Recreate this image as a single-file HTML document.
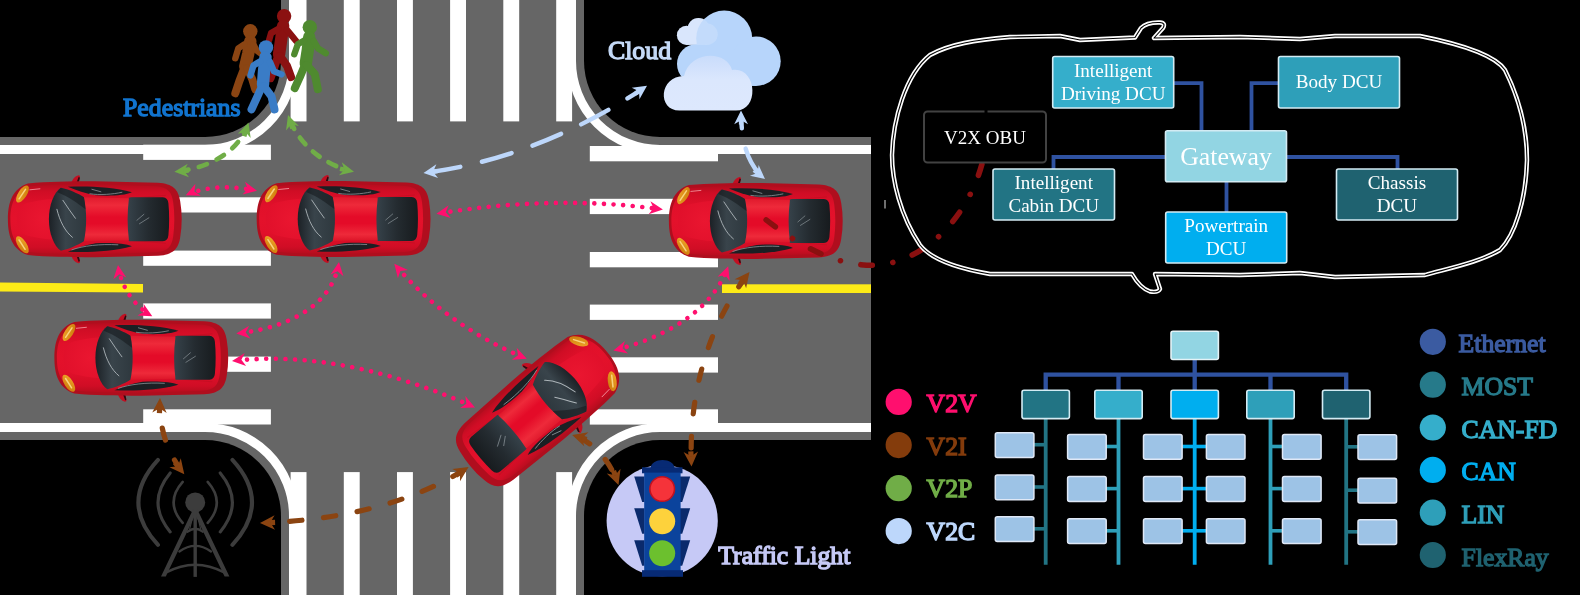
<!DOCTYPE html><html><head><meta charset="utf-8"><title>V2X</title>
<style>html,body{margin:0;padding:0;background:#000;overflow:hidden}svg{display:block;will-change:transform}text{font-family:"Liberation Serif",serif}</style></head><body>
<svg width="1580" height="595" viewBox="0 0 1580 595">
<defs>
<linearGradient id="gBody" x1="0" y1="0" x2="0" y2="1">
<stop offset="0" stop-color="#b50d1e"/><stop offset="0.10" stop-color="#d00d25"/><stop offset="0.30" stop-color="#e1102a"/>
<stop offset="0.5" stop-color="#e4112b"/><stop offset="0.70" stop-color="#e1102a"/><stop offset="0.90" stop-color="#d00d25"/><stop offset="1" stop-color="#b50d1e"/></linearGradient>
<linearGradient id="gRoof" x1="0" y1="0" x2="0" y2="1">
<stop offset="0" stop-color="#e01a2d"/><stop offset="0.18" stop-color="#ee2a3a"/><stop offset="0.45" stop-color="#e40b28"/><stop offset="0.6" stop-color="#e40b28"/><stop offset="0.85" stop-color="#ee2a3a"/><stop offset="1" stop-color="#dc1428"/></linearGradient>
<radialGradient id="gHood" cx="0.7" cy="0.5" r="0.8"><stop offset="0" stop-color="#ea1630"/><stop offset="1" stop-color="#e00f2a"/></radialGradient>
<linearGradient id="gWs" x1="0" y1="0" x2="1" y2="0"><stop offset="0" stop-color="#1c2126"/><stop offset="0.45" stop-color="#39444b"/><stop offset="1" stop-color="#2e383e"/></linearGradient>
<linearGradient id="gRw" x1="0" y1="0" x2="1" y2="0"><stop offset="0" stop-color="#36424a"/><stop offset="0.5" stop-color="#242b30"/><stop offset="1" stop-color="#171b1e"/></linearGradient>
<linearGradient id="gHl" x1="0" y1="0" x2="1" y2="1"><stop offset="0" stop-color="#f2a62a"/><stop offset="1" stop-color="#c97808"/></linearGradient>
<linearGradient id="gCloudF" x1="0" y1="0" x2="0" y2="1"><stop offset="0" stop-color="#c9dcfb"/><stop offset="0.45" stop-color="#dbe7fd"/><stop offset="1" stop-color="#dde8fd"/></linearGradient>

<g id="car">
<path d="M63.5,1.5 C64.5,-2 67,-5 70.5,-6 Q72.5,-6 72,-3.5 L70.5,1.5 Z" fill="#c20f22"/>
<path d="M68.6,1.5 L70.8,-4.6 L72,-3.6 L70.8,1.5 Z" fill="#2a0c10"/>
<path d="M63.5,74.5 C64.5,78 67,81 70.5,82 Q72.5,82 72,79.5 L70.5,74.5 Z" fill="#c20f22"/>
<path d="M68.6,74.5 L70.8,80.6 L72,79.6 L70.8,74.5 Z" fill="#2a0c10"/>
<path d="M0,38 C0,21 4.5,7.5 20,2.2 C40,0.3 60,0 87,0 L150,1.5 C165,2.5 170.5,8 172.3,20 C174.3,32 174.3,44 172.3,56 C170.5,68 165,73.5 150,74.5 L87,76 C60,76 40,75.7 20,73.8 C4.5,68.5 0,55 0,38 Z" fill="#b00e1e"/>
<path d="M2.5,38 C2.5,23 6.5,10.5 21.5,5.2 C42,3.2 60,3 87,3 L148,5 C160,6 164,11 165.3,21 C166.8,32 166.8,44 165.3,55 C164,65 160,70 148,71 L87,73 C60,73 42,72.8 21.5,70.8 C6.5,65.5 2.5,53 2.5,38 Z" fill="url(#gBody)"/>
<path d="M9,38 C9,30 12,24 20,21.5 C30,19 40,18 47,17.5 C43,30 43,46 47,58.5 C40,58 30,57 20,54.5 C12,52 9,46 9,38 Z" fill="url(#gHood)"/>
<path d="M74,16 L122,17 L122,59 L74,60 C77,46 77,30 74,16 Z" fill="url(#gRoof)"/>
<path d="M122,17 L158,14 M122,59 L158,62" stroke="#c40e22" stroke-width="1" fill="none" opacity="0.8"/>
<path d="M53,6.5 C60,8 70,12 76,16 C79,30 79,46 76,60 C70,64 60,68 53,69.5 C46,65 41,52 41,38 C41,24 46,11 53,6.5 Z" fill="url(#gWs)"/>
<path d="M53,6.5 C60,8 70,12 76,16 C76.8,20 77.3,24 77.6,28 C70,22 60,15 49.5,11 C50.5,9 51.7,7.5 53,6.5 Z" fill="#14181b" opacity="0.55"/>
<path d="M55,19 C59,25 63,31 67.5,37 M49,28 C52,40 57,50 64.5,56" stroke="#aeb6ba" stroke-width="0.9" fill="none" stroke-linecap="round"/>
<path d="M121,17.5 Q120,16 123,16 L155,16 Q160,16.5 160.5,22 C161.5,32 161.5,44 160.5,54 Q160,59.5 155,60 L123,60 Q120,60 121,58.5 C119.3,45 119.3,31 121,17.5 Z" fill="url(#gRw)"/>
<path d="M129,39 L136,33 M131.5,42.5 L141,36.5" stroke="#7d868b" stroke-width="0.8" fill="none" stroke-linecap="round"/>
<path d="M60,5.5 C80,4.8 105,5.5 124,11 C117,14.5 100,14.8 88,14 C78,12.5 68,9 60,5.5 Z" fill="#1b2024"/>
<path d="M84,8 L93,10.5 M82,12.5 C92,14 105,13 114,11" stroke="#8a9398" stroke-width="0.8" fill="none" stroke-linecap="round"/>
<path d="M60,70.5 C80,71.2 105,70.5 124,65 C117,61.5 100,61.2 88,62 C78,63.5 68,67 60,70.5 Z" fill="#1b2024"/>
<path d="M64,68.5 C75,64.5 92,62.5 110,63.5" stroke="#8a9398" stroke-width="0.8" fill="none" stroke-linecap="round"/>
<ellipse cx="14.6" cy="12.7" rx="9.8" ry="4.3" transform="rotate(-57 14.6 12.7)" fill="url(#gHl)"/>
<path d="M11.2,17.5 L17.6,8" stroke="#f8d27e" stroke-width="1.5" stroke-linecap="round"/>
<ellipse cx="14.4" cy="63.5" rx="9.8" ry="4.3" transform="rotate(57 14.4 63.5)" fill="url(#gHl)"/>
<path d="M11.2,58.7 L17.2,68" stroke="#f8d27e" stroke-width="1.5" stroke-linecap="round"/>
<path d="M22,8.5 L32,7.5" stroke="#f6a0a8" stroke-width="0.8" stroke-linecap="round"/>
</g>
<marker id="mP" markerUnits="userSpaceOnUse" markerWidth="13.5" markerHeight="13" refX="13.5" refY="6.5" orient="auto-start-reverse" viewBox="0 0 13.5 13" overflow="visible"><path d="M13.5,6.5 L0,0 L4.05,6.5 L0,13 Z" fill="#ff0f6e"/></marker>
<marker id="mB" markerUnits="userSpaceOnUse" markerWidth="14.8" markerHeight="14.5" refX="14.8" refY="7.25" orient="auto-start-reverse" viewBox="0 0 14.8 14.5" overflow="visible"><path d="M14.8,7.25 L0,0 L4.44,7.25 L0,14.5 Z" fill="#8b4411"/><rect x="-0.3" y="4.65" width="5.04" height="5.2" fill="#8b4411"/></marker>
<marker id="mG" markerUnits="userSpaceOnUse" markerWidth="14" markerHeight="13.5" refX="14" refY="6.75" orient="auto-start-reverse" viewBox="0 0 14 13.5" overflow="visible"><path d="M14,6.75 L0,0 L4.2,6.75 L0,13.5 Z" fill="#70ad47"/><rect x="-0.3" y="4.4" width="4.8" height="4.7" fill="#70ad47"/></marker>
<marker id="mC" markerUnits="userSpaceOnUse" markerWidth="13.8" markerHeight="13.8" refX="13.8" refY="6.9" orient="auto-start-reverse" viewBox="0 0 13.8 13.8" overflow="visible"><path d="M13.8,6.9 L0,0 L4.14,6.9 L0,13.8 Z" fill="#bdd7fb"/><rect x="-0.3" y="4.7" width="4.739999999999999" height="4.4" fill="#bdd7fb"/></marker>
</defs>
<g id="road">
<rect x="0" y="137" width="871" height="303" fill="#666666"/>
<rect x="281" y="0" width="303" height="595" fill="#666666"/>
<rect x="205" y="61" width="76" height="76" fill="#666666"/>
<circle cx="205" cy="61" r="76" fill="#000"/>
<rect x="584" y="61" width="76" height="76" fill="#666666"/>
<circle cx="660" cy="61" r="76" fill="#000"/>
<rect x="205" y="440" width="76" height="76" fill="#666666"/>
<circle cx="205" cy="516" r="76" fill="#000"/>
<rect x="584" y="440" width="76" height="76" fill="#666666"/>
<circle cx="660" cy="516" r="76" fill="#000"/>
<path d="M0,149.5 L205,149.5 A88.5,88.5 0 0 0 293.5,61 L293.5,0" stroke="#fff" stroke-width="9" fill="none"/>
<path d="M871,149.5 L660,149.5 A88.5,88.5 0 0 1 571.5,61 L571.5,0" stroke="#fff" stroke-width="9" fill="none"/>
<path d="M0,427.5 L205,427.5 A88.5,88.5 0 0 1 293.5,516 L293.5,595" stroke="#fff" stroke-width="9" fill="none"/>
<path d="M871,427.5 L660,427.5 A88.5,88.5 0 0 0 571.5,516 L571.5,595" stroke="#fff" stroke-width="9" fill="none"/>
<rect x="290.6" y="0" width="15.9" height="121.4" fill="#fff"/>
<rect x="290.6" y="472.1" width="15.9" height="123" fill="#fff"/>
<rect x="343.8" y="0" width="15.9" height="121.4" fill="#fff"/>
<rect x="343.8" y="472.1" width="15.9" height="123" fill="#fff"/>
<rect x="397" y="0" width="15.9" height="121.4" fill="#fff"/>
<rect x="397" y="472.1" width="15.9" height="123" fill="#fff"/>
<rect x="450.1" y="0" width="15.9" height="121.4" fill="#fff"/>
<rect x="450.1" y="472.1" width="15.9" height="123" fill="#fff"/>
<rect x="503.3" y="0" width="15.9" height="121.4" fill="#fff"/>
<rect x="503.3" y="472.1" width="15.9" height="123" fill="#fff"/>
<rect x="556.2" y="0" width="15.9" height="121.4" fill="#fff"/>
<rect x="556.2" y="472.1" width="15.9" height="123" fill="#fff"/>
<rect x="143.2" y="144.7" width="127.7" height="15.2" fill="#fff"/>
<rect x="143.2" y="197.3" width="127.7" height="15.2" fill="#fff"/>
<rect x="143.2" y="250.6" width="127.7" height="15.2" fill="#fff"/>
<rect x="143.2" y="303.4" width="127.7" height="15.2" fill="#fff"/>
<rect x="143.2" y="356.6" width="127.7" height="15.2" fill="#fff"/>
<rect x="143.2" y="409.3" width="127.7" height="15.2" fill="#fff"/>
<rect x="589.8" y="146" width="128.2" height="15.3" fill="#fff"/>
<rect x="589.8" y="198.8" width="128.2" height="15.3" fill="#fff"/>
<rect x="589.8" y="252" width="128.2" height="15.3" fill="#fff"/>
<rect x="589.8" y="304.6" width="128.2" height="15.3" fill="#fff"/>
<rect x="589.8" y="357.3" width="128.2" height="15.3" fill="#fff"/>
<rect x="589.8" y="409.3" width="128.2" height="15.3" fill="#fff"/>
<path d="M0,282.5 L143,284 L143,292.5 L0,291.5 Z" fill="#fdeb17"/>
<rect x="722" y="284.3" width="149" height="8.7" fill="#fdeb17"/>
</g>
<use href="#car" transform="translate(7.9,181.3)"/>
<use href="#car" transform="translate(256.7,181)"/>
<use href="#car" transform="translate(668.9,182.9)"/>
<use href="#car" transform="translate(54.4,319.8)"/>
<use href="#car" transform="translate(538.8,409.3) rotate(139.8) scale(1.025) translate(-87,-38)"/>
<g transform="translate(250.3,31.3)" fill="none" stroke="#8b4513" stroke-linecap="round" stroke-linejoin="round">
<circle cx="0" cy="0" r="7.2" fill="#8b4513" stroke="none"/>
<path d="M0,10 L-2,22 L-5,35" stroke-width="12.4"/>
<path d="M-6,37 L-11,50 L-15,62" stroke-width="8"/>
<path d="M-3,37 L2,48 L5,58" stroke-width="8"/>
<path d="M-6,13 L-12,17 L-15,27" stroke-width="6.4"/>
<path d="M3,13 L6,19 L10,22" stroke-width="6.4"/>
</g>
<g transform="translate(284.1,16.1)" fill="none" stroke="#8b1111" stroke-linecap="round" stroke-linejoin="round">
<circle cx="0" cy="0" r="7.2" fill="#8b1111" stroke="none"/>
<path d="M-1,10 L-3,24 L-5,38" stroke-width="12.4"/>
<path d="M-6,40 L-10,52 L-13.5,62" stroke-width="8"/>
<path d="M-4,40 L3,50 L7,61" stroke-width="8"/>
<path d="M-6,13 L-13,17 L-15,24" stroke-width="6.4"/>
<path d="M3,14 L8,20 L12,25" stroke-width="6.4"/>
</g>
<g transform="translate(309.8,27.2)" fill="none" stroke="#4f8a2f" stroke-linecap="round" stroke-linejoin="round">
<circle cx="0" cy="0" r="7.2" fill="#4f8a2f" stroke="none"/>
<path d="M-0.5,10 L-2,23 L-4,36" stroke-width="12.4"/>
<path d="M-5,38 L-10,50 L-15,61" stroke-width="8"/>
<path d="M-3,38 L5,47 L8,62" stroke-width="8"/>
<path d="M-6,13.5 L-12,17 L-15.5,27" stroke-width="6.4"/>
<path d="M4,14 L8,21 L16,26" stroke-width="6.4"/>
</g>
<g transform="translate(266,47.4)" fill="none" stroke="#3a7cc6" stroke-linecap="round" stroke-linejoin="round">
<circle cx="0" cy="0" r="7.2" fill="#3a7cc6" stroke="none"/>
<path d="M-0.5,10 L-2,24 L-3,37" stroke-width="12.4"/>
<path d="M-4,39 L-9,50 L-14.5,62" stroke-width="8"/>
<path d="M-2,39 L5.5,49 L8.5,62" stroke-width="8"/>
<path d="M-6,14 L-12.5,18 L-15.5,28" stroke-width="6.4"/>
<path d="M4,14.5 L8,24 L15.5,27" stroke-width="6.4"/>
</g>
<g id="tower" stroke="#3c3c3c" fill="none" stroke-linecap="round">
<circle cx="195.2" cy="502.4" r="10" fill="#3c3c3c" stroke="none"/>
<path d="M182.7,481.9 Q164.5,502.4 182.7,522.9" stroke-width="2.6"/>
<path d="M207.7,481.9 Q225.89999999999998,502.4 207.7,522.9" stroke-width="2.6"/>
<path d="M170.2,472.9 Q145.79999999999998,502.4 170.2,531.9" stroke-width="3.1"/>
<path d="M220.2,472.9 Q244.6,502.4 220.2,531.9" stroke-width="3.1"/>
<path d="M158.0,459.9 Q118.8,502.4 158.0,544.9" stroke-width="4"/>
<path d="M232.39999999999998,459.9 Q271.59999999999997,502.4 232.39999999999998,544.9" stroke-width="4"/>
<path d="M193.0,509.4 L161.0,576.4 L165.79999999999998,576.4 L195.39999999999998,514.4 Z M197.39999999999998,509.4 L229.39999999999998,576.4 L224.6,576.4 L195.0,514.4 Z" fill="#3c3c3c" stroke="none"/>
<path d="M195.2,510.4 L195.2,576.9" stroke-width="3.4" stroke-linecap="butt"/>
<path d="M187.7,531.6999999999999 Q195.2,525.9 202.7,531.6999999999999" stroke-width="2.3"/>
<path d="M179.39999999999998,551.4 Q195.2,540.4 211.0,551.4" stroke-width="2.4"/>
<path d="M166.2,572.4 Q195.2,556.9 224.2,572.4" stroke-width="2.5"/>
<path d="M192.79999999999998,516.4 L189.6,529.4 M197.6,516.4 L200.79999999999998,529.4" stroke-width="1.2"/>
</g>
<g id="tl">
<circle cx="662.2" cy="520.7" r="55.6" fill="#c6c9f6"/>
<path d="M650.4,469 C650.4,457 674.7,457 674.7,469 Z" fill="#072a74"/>
<rect x="642" y="467.3" width="40.5" height="6" fill="#072a74"/>
<path d="M634.2,476.5 L644.5,476.5 L644.5,502.0 L642.2,502.0 Z" fill="#0a2a6c"/>
<path d="M690.2,476.5 L679.9,476.5 L679.9,502.0 L682.2,502.0 Z" fill="#0a2a6c"/>
<path d="M634.2,508.3 L644.5,508.3 L644.5,533.8 L642.2,533.8 Z" fill="#0a2a6c"/>
<path d="M690.2,508.3 L679.9,508.3 L679.9,533.8 L682.2,533.8 Z" fill="#0a2a6c"/>
<path d="M634.2,540.3 L644.5,540.3 L644.5,565.8 L642.2,565.8 Z" fill="#0a2a6c"/>
<path d="M690.2,540.3 L679.9,540.3 L679.9,565.8 L682.2,565.8 Z" fill="#0a2a6c"/>
<rect x="644.2" y="472.6" width="36.4" height="99" fill="#0b439c"/>
<rect x="642" y="570.2" width="41" height="6.6" fill="#072a74"/>
<circle cx="662.2" cy="489" r="12.3" fill="#f5333a" stroke="#c2121f" stroke-width="1.6"/>
<circle cx="662.2" cy="521.3" r="13" fill="#fdd23c"/>
<circle cx="662.2" cy="553.3" r="13" fill="#6cc02e"/>
</g>
<g id="cloud">
<g fill="#d6e4fc"><circle cx="686.5" cy="35.3" r="9.6"/><circle cx="698.5" cy="29" r="11"/><circle cx="707" cy="34.2" r="10.7"/><rect x="686.5" y="35" width="20.5" height="9.9"/></g>
<circle cx="724.2" cy="38.5" r="28" fill="#b7d5fb"/><circle cx="756" cy="61.2" r="24.7" fill="#b7d5fb"/><circle cx="697" cy="64" r="20" fill="#b7d5fb"/><rect x="697" y="50" width="59" height="35.9" fill="#b7d5fb"/>
<path d="M679.5,110.6 C657,110.6 659,76 684,76 C690,50 727,50 732,70 C757,66 760,110.6 736,110.6 Z" fill="url(#gCloudF)"/>
<g fill="#e3edfd" opacity="0.28"><circle cx="686.5" cy="35.3" r="9.6"/><circle cx="698.5" cy="29" r="11"/><circle cx="707" cy="34.2" r="10.7"/><rect x="686.5" y="35" width="20.5" height="9.9"/></g>
</g>
<g id="arrows">
<path d="M185.8,195.3 C208.4,185.1 233.3,186.1 257.0,190.8" fill="none" stroke="#ff0f6e" stroke-width="4.6" stroke-linecap="round" stroke-dasharray="0.01 9.61 0.01 9.61 0.01 9.61 0.01 9.61 0.01 9.61 0.01 2000" stroke-dashoffset="-13.32" marker-start="url(#mP)" marker-end="url(#mP)"/>
<path d="M436.4,213.8 C511.3,201.4 587.6,198.9 662.9,209.6" fill="none" stroke="#ff0f6e" stroke-width="4.6" stroke-linecap="round" stroke-dasharray="0.01 9.61 0.01 9.61 0.01 9.61 0.01 9.61 0.01 9.61 0.01 9.61 0.01 9.61 0.01 9.61 0.01 9.61 0.01 9.61 0.01 9.61 0.01 9.61 0.01 9.61 0.01 9.61 0.01 9.61 0.01 9.61 0.01 9.61 0.01 9.61 0.01 9.61 0.01 9.61 0.01 9.61 0.01 2000" stroke-dashoffset="-14.22" marker-start="url(#mP)" marker-end="url(#mP)"/>
<path d="M118.0,265.0 C120.9,286.2 133.5,305.8 152.3,316.3" fill="none" stroke="#ff0f6e" stroke-width="4.6" stroke-linecap="round" stroke-dasharray="0.01 9.61 0.01 9.61 0.01 9.61 0.01 9.61 0.01 2000" stroke-dashoffset="-13.32" marker-start="url(#mP)" marker-end="url(#mP)"/>
<path d="M339.0,262.0 C331.8,310.3 278.8,329.4 236.3,333.4" fill="none" stroke="#ff0f6e" stroke-width="4.6" stroke-linecap="round" stroke-dasharray="0.01 9.61 0.01 9.61 0.01 9.61 0.01 9.61 0.01 9.61 0.01 9.61 0.01 9.61 0.01 9.61 0.01 9.61 0.01 9.61 0.01 9.61 0.01 2000" stroke-dashoffset="-14.12" marker-start="url(#mP)" marker-end="url(#mP)"/>
<path d="M394.3,263.7 C429.5,306.2 475.8,338.2 526.8,358.7" fill="none" stroke="#ff0f6e" stroke-width="4.6" stroke-linecap="round" stroke-dasharray="0.01 9.61 0.01 9.61 0.01 9.61 0.01 9.61 0.01 9.61 0.01 9.61 0.01 9.61 0.01 9.61 0.01 9.61 0.01 9.61 0.01 9.61 0.01 9.61 0.01 9.61 0.01 9.61 0.01 2000" stroke-dashoffset="-15.02" marker-start="url(#mP)" marker-end="url(#mP)"/>
<path d="M232.0,360.9 C316.0,351.7 398.9,373.6 475.0,407.5" fill="none" stroke="#ff0f6e" stroke-width="4.6" stroke-linecap="round" stroke-dasharray="0.01 9.61 0.01 9.61 0.01 9.61 0.01 9.61 0.01 9.61 0.01 9.61 0.01 9.61 0.01 9.61 0.01 9.61 0.01 9.61 0.01 9.61 0.01 9.61 0.01 9.61 0.01 9.61 0.01 9.61 0.01 9.61 0.01 9.61 0.01 9.61 0.01 9.61 0.01 9.61 0.01 9.61 0.01 9.61 0.01 9.61 0.01 2000" stroke-dashoffset="-15.02" marker-start="url(#mP)" marker-end="url(#mP)"/>
<path d="M728.2,266.2 C710.9,314.3 660.0,338.7 613.4,350.5" fill="none" stroke="#ff0f6e" stroke-width="4.6" stroke-linecap="round" stroke-dasharray="0.01 9.61 0.01 9.61 0.01 9.61 0.01 9.61 0.01 9.61 0.01 9.61 0.01 9.61 0.01 9.61 0.01 9.61 0.01 9.61 0.01 9.61 0.01 9.61 0.01 9.61 0.01 2000" stroke-dashoffset="-9.30" marker-start="url(#mP)" marker-end="url(#mP)"/>
<path d="M174.4,171.7 C205.6,168.9 238.4,154.1 248.5,122.6" fill="none" stroke="#70ad47" stroke-width="4.7" stroke-linecap="round" stroke-dasharray="5.85 10.70 8.60 10.70 8.60 10.70 8.60 10.70 3.09 5000" stroke-dashoffset="-8.35" marker-start="url(#mG)" marker-end="url(#mG)"/>
<path d="M288.0,115.0 C297.6,143.6 323.2,165.1 354.0,171.7" fill="none" stroke="#70ad47" stroke-width="4.7" stroke-linecap="round" stroke-dasharray="6.85 10.40 8.60 10.40 8.60 10.40 8.60 5000" stroke-dashoffset="-8.35" marker-start="url(#mG)" marker-end="url(#mG)"/>
<path d="M160.0,398.0 C159.0,425.0 165.0,450.0 184.3,474.3" fill="none" stroke="#8b4411" stroke-width="5.2" stroke-linecap="round" stroke-dasharray="12.40 21.90 8.73 5000" stroke-dashoffset="-30.30" marker-start="url(#mB)" marker-end="url(#mB)"/>
<path d="M468.6,467.1 C406.8,506.7 332.4,520.7 260.0,522.9" fill="none" stroke="#8b4411" stroke-width="5.2" stroke-linecap="round" stroke-dasharray="9.80 21.70 12.40 21.70 12.40 21.70 12.40 21.70 12.40 21.70 12.40 5000" stroke-dashoffset="-8.60" marker-start="url(#mB)" marker-end="url(#mB)"/>
<path d="M749.5,272.0 C706.4,327.2 688.3,397.2 691.5,466.5" fill="none" stroke="#8b4411" stroke-width="5.2" stroke-linecap="round" stroke-dasharray="9.65 22.55 11.50 22.55 11.50 22.55 11.50 22.55 11.50 22.55 11.50 5000" stroke-dashoffset="-8.60" marker-start="url(#mB)" marker-end="url(#mB)"/>
<path d="M572.2,435.0 C595.3,442.0 610.9,463.1 618.5,485.0" fill="none" stroke="#8b4411" stroke-width="5.2" stroke-linecap="round" stroke-dasharray="11.10 22.00 12.00 5000" stroke-dashoffset="-8.60" marker-start="url(#mB)" marker-end="url(#mB)"/>
<path d="M423.5,172.9 C503.9,163.0 580.2,131.1 647.0,85.8" fill="none" stroke="#bdd7fb" stroke-width="4.4" stroke-linecap="round" stroke-dasharray="29.10 22.20 30.90 22.20 30.90 22.20 30.90 22.20 15.12 5000" stroke-dashoffset="-8.20" marker-start="url(#mC)" marker-end="url(#mC)"/>
<path d="M741.0,110.5 C741.2,134.8 744.5,162.4 765.0,179.0" fill="none" stroke="#bdd7fb" stroke-width="4.4" stroke-linecap="round" stroke-dasharray="9.60 20.60 28.51 5000" stroke-dashoffset="-8.20" marker-start="url(#mC)" marker-end="url(#mC)"/>
<path d="M765.0,219.0 C797.1,244.0 834.8,266.9 877.0,265.2 C930.0,260.5 968.7,212.4 982.0,164.0" fill="none" stroke="#8a1010" stroke-width="5.6" stroke-linecap="round" stroke-dasharray="11.5 20.75 0.01 20.75" stroke-dashoffset="-1.5"/>
</g>
<text x="123.0" y="115.7" font-size="25.8" fill="#1174cf" text-anchor="start" font-weight="normal" stroke="#1174cf" stroke-width="1.4">Pedestrians</text>
<text x="608.0" y="59.3" font-size="25.8" fill="#c5daf8" text-anchor="start" font-weight="normal" stroke="#c5daf8" stroke-width="1.3">Cloud</text>
<text x="718.3" y="564" font-size="25.7" fill="#c6c9f6" text-anchor="start" font-weight="normal" stroke="#c6c9f6" stroke-width="1.4">Traffic Light</text>
<g id="outline" fill="none" stroke-linejoin="round" stroke-linecap="round">
<path d="M1135,37.5 L1141,28 Q1147,22 1160,22.5 Q1166,23 1163,28 L1154,38 L1240,37 L1300,39 L1335,36 L1420,36 C1460,44 1495,55 1505,70 C1520,100 1527,130 1527,160 C1526,200 1515,235 1500,250 C1480,262 1450,268 1425,275 L1335,277 L1300,273 L1240,275 L1155,274 L1160,289 Q1158,293 1150,291.5 Q1140,288 1132,274 L1060,274 L990,274 C955,268 930,258 920,245 C900,215 892,180 892,155 C893,120 905,75 930,55 C950,44 975,40 1010,37 L1060,36 L1080,40 Z" stroke="#fff" stroke-width="4.4"/>
<path d="M1135,37.5 L1141,28 Q1147,22 1160,22.5 Q1166,23 1163,28 L1154,38 L1240,37 L1300,39 L1335,36 L1420,36 C1460,44 1495,55 1505,70 C1520,100 1527,130 1527,160 C1526,200 1515,235 1500,250 C1480,262 1450,268 1425,275 L1335,277 L1300,273 L1240,275 L1155,274 L1160,289 Q1158,293 1150,291.5 Q1140,288 1132,274 L1060,274 L990,274 C955,268 930,258 920,245 C900,215 892,180 892,155 C893,120 905,75 930,55 C950,44 975,40 1010,37 L1060,36 L1080,40 Z" stroke="#000" stroke-width="1.1"/>
</g>
<g fill="none" stroke="#2f52a0" stroke-width="3.8">
<path d="M1173,83.2 L1201.5,83.2 L1201.5,132"/>
<path d="M1279,83.2 L1251.5,83.2 L1251.5,132"/>
<path d="M1166,157 L1053.5,157 L1053.5,170"/>
<path d="M1286,157 L1397.5,157 L1397.5,170"/>
<path d="M1226.5,181 L1226.5,213"/>
</g>
<rect x="1052.7" y="56.5" width="121" height="51.5" rx="2" fill="#35aecb" stroke="#d3ebf3" stroke-width="1.6"/>
<text x="1113.2" y="77.1" font-size="19.1" fill="#fff" text-anchor="middle">Intelligent</text>
<text x="1113.2" y="99.7" font-size="19.1" fill="#fff" text-anchor="middle">Driving DCU</text>
<rect x="1278.5" y="56.5" width="121" height="51.5" rx="2" fill="#2e9fb9" stroke="#d3ebf3" stroke-width="1.6"/>
<text x="1339.0" y="88.4" font-size="19.1" fill="#fff" text-anchor="middle">Body DCU</text>
<rect x="1165.5" y="130.8" width="121" height="51" rx="2" fill="#92d5e3" stroke="#d3ebf3" stroke-width="1.6"/>
<text x="1226.0" y="164.6" font-size="25.8" fill="#fff" text-anchor="middle">Gateway</text>
<rect x="993" y="169" width="121.5" height="51" rx="2" fill="#227484" stroke="#d3ebf3" stroke-width="1.6"/>
<text x="1053.75" y="189.3" font-size="19.1" fill="#fff" text-anchor="middle">Intelligent</text>
<text x="1053.75" y="211.9" font-size="19.1" fill="#fff" text-anchor="middle">Cabin DCU</text>
<rect x="1336.5" y="169" width="121" height="51" rx="2" fill="#1f6270" stroke="#d3ebf3" stroke-width="1.6"/>
<text x="1397.0" y="189.3" font-size="19.1" fill="#fff" text-anchor="middle">Chassis</text>
<text x="1397.0" y="211.9" font-size="19.1" fill="#fff" text-anchor="middle">DCU</text>
<rect x="1165.7" y="212" width="121" height="51" rx="2" fill="#00aeef" stroke="#d3ebf3" stroke-width="1.6"/>
<text x="1226.2" y="232.3" font-size="19.1" fill="#fff" text-anchor="middle">Powertrain</text>
<text x="1226.2" y="254.9" font-size="19.1" fill="#fff" text-anchor="middle">DCU</text>
<rect x="924" y="111.5" width="122" height="51" rx="3.5" fill="#000" stroke="#424242" stroke-width="2"/>
<rect x="984.5" y="110" width="3" height="3.2" fill="#000"/>
<text x="985" y="143.6" font-size="19" fill="#fff" text-anchor="middle">V2X OBU</text>
<rect x="884.5" y="200" width="1" height="8.5" fill="#ddd"/>
<g id="net">
<path d="M1194.7,359 L1194.7,391 M1045.7,391 L1045.7,374.6 L1346.2,374.6 L1346.2,391 M1118.5,374.6 L1118.5,391 M1270.5,374.6 L1270.5,391" fill="none" stroke="#2f52a0" stroke-width="4.3"/>
<path d="M1045.7,418 L1045.7,564.8" stroke="#227484" stroke-width="3.8" fill="none"/>
<path d="M1118.5,418 L1118.5,564.8" stroke="#2e9fb9" stroke-width="3.8" fill="none"/>
<path d="M1194.7,418 L1194.7,564.8" stroke="#00aeef" stroke-width="3.8" fill="none"/>
<path d="M1270.5,418 L1270.5,564.8" stroke="#2e9fb9" stroke-width="3.8" fill="none"/>
<path d="M1346.2,418 L1346.2,564.8" stroke="#227484" stroke-width="3.8" fill="none"/>
<path d="M1033,444.7 L1045.7,444.7" stroke="#227484" stroke-width="3.6"/>
<rect x="995.3" y="432.7" width="38.6" height="24.8" rx="2" fill="#9dc3e6" stroke="#dfe8f6" stroke-width="1.5"/>
<path d="M1033,487 L1045.7,487" stroke="#227484" stroke-width="3.6"/>
<rect x="995.3" y="475" width="38.6" height="24.8" rx="2" fill="#9dc3e6" stroke="#dfe8f6" stroke-width="1.5"/>
<path d="M1033,528.8 L1045.7,528.8" stroke="#227484" stroke-width="3.6"/>
<rect x="995.3" y="516.8" width="38.6" height="24.8" rx="2" fill="#9dc3e6" stroke="#dfe8f6" stroke-width="1.5"/>
<path d="M1106,446.5 L1118.5,446.5" stroke="#2e9fb9" stroke-width="3.6"/>
<rect x="1067.6" y="434.5" width="38.6" height="24.8" rx="2" fill="#9dc3e6" stroke="#dfe8f6" stroke-width="1.5"/>
<path d="M1182,446.5 L1207,446.5" stroke="#00aeef" stroke-width="3.6"/>
<rect x="1143.5" y="434.5" width="38.6" height="24.8" rx="2" fill="#9dc3e6" stroke="#dfe8f6" stroke-width="1.5"/>
<rect x="1206.4" y="434.5" width="38.6" height="24.8" rx="2" fill="#9dc3e6" stroke="#dfe8f6" stroke-width="1.5"/>
<path d="M1270.5,446.5 L1283,446.5" stroke="#2e9fb9" stroke-width="3.6"/>
<rect x="1282.5" y="434.5" width="38.6" height="24.8" rx="2" fill="#9dc3e6" stroke="#dfe8f6" stroke-width="1.5"/>
<path d="M1106,488.6 L1118.5,488.6" stroke="#2e9fb9" stroke-width="3.6"/>
<rect x="1067.6" y="476.6" width="38.6" height="24.8" rx="2" fill="#9dc3e6" stroke="#dfe8f6" stroke-width="1.5"/>
<path d="M1182,488.6 L1207,488.6" stroke="#00aeef" stroke-width="3.6"/>
<rect x="1143.5" y="476.6" width="38.6" height="24.8" rx="2" fill="#9dc3e6" stroke="#dfe8f6" stroke-width="1.5"/>
<rect x="1206.4" y="476.6" width="38.6" height="24.8" rx="2" fill="#9dc3e6" stroke="#dfe8f6" stroke-width="1.5"/>
<path d="M1270.5,488.6 L1283,488.6" stroke="#2e9fb9" stroke-width="3.6"/>
<rect x="1282.5" y="476.6" width="38.6" height="24.8" rx="2" fill="#9dc3e6" stroke="#dfe8f6" stroke-width="1.5"/>
<path d="M1106,530.8 L1118.5,530.8" stroke="#2e9fb9" stroke-width="3.6"/>
<rect x="1067.6" y="518.8" width="38.6" height="24.8" rx="2" fill="#9dc3e6" stroke="#dfe8f6" stroke-width="1.5"/>
<path d="M1182,530.8 L1207,530.8" stroke="#00aeef" stroke-width="3.6"/>
<rect x="1143.5" y="518.8" width="38.6" height="24.8" rx="2" fill="#9dc3e6" stroke="#dfe8f6" stroke-width="1.5"/>
<rect x="1206.4" y="518.8" width="38.6" height="24.8" rx="2" fill="#9dc3e6" stroke="#dfe8f6" stroke-width="1.5"/>
<path d="M1270.5,530.8 L1283,530.8" stroke="#2e9fb9" stroke-width="3.6"/>
<rect x="1282.5" y="518.8" width="38.6" height="24.8" rx="2" fill="#9dc3e6" stroke="#dfe8f6" stroke-width="1.5"/>
<path d="M1346.2,446.8 L1359,446.8" stroke="#227484" stroke-width="3.6"/>
<rect x="1358" y="434.8" width="38.6" height="24.8" rx="2" fill="#9dc3e6" stroke="#dfe8f6" stroke-width="1.5"/>
<path d="M1346.2,490.2 L1359,490.2" stroke="#227484" stroke-width="3.6"/>
<rect x="1358" y="478.2" width="38.6" height="24.8" rx="2" fill="#9dc3e6" stroke="#dfe8f6" stroke-width="1.5"/>
<path d="M1346.2,531.8 L1359,531.8" stroke="#227484" stroke-width="3.6"/>
<rect x="1358" y="519.8" width="38.6" height="24.8" rx="2" fill="#9dc3e6" stroke="#dfe8f6" stroke-width="1.5"/>
<rect x="1171.0" y="331.2" width="47.4" height="28.3" rx="2" fill="#92d5e3" stroke="#e4f3f7" stroke-width="1.6"/>
<rect x="1022.0" y="390.3" width="47.4" height="28.3" rx="2" fill="#227484" stroke="#d3ebf3" stroke-width="1.6"/>
<rect x="1094.8" y="390.3" width="47.4" height="28.3" rx="2" fill="#35aecb" stroke="#d3ebf3" stroke-width="1.6"/>
<rect x="1171.0" y="390.3" width="47.4" height="28.3" rx="2" fill="#00aeef" stroke="#d3ebf3" stroke-width="1.6"/>
<rect x="1246.8" y="390.3" width="47.4" height="28.3" rx="2" fill="#2e9fb9" stroke="#d3ebf3" stroke-width="1.6"/>
<rect x="1322.5" y="390.3" width="47.4" height="28.3" rx="2" fill="#1f6270" stroke="#d3ebf3" stroke-width="1.6"/>
</g>
<circle cx="898.7" cy="401.90000000000003" r="13.1" fill="#ff0f6e"/>
<text x="926.6" y="411.5" font-size="25.7" fill="#ff0f6e" text-anchor="start" font-weight="normal" stroke="#ff0f6e" stroke-width="1.4">V2V</text>
<circle cx="898.7" cy="445.1" r="13.1" fill="#843c0c"/>
<text x="926.6" y="454.7" font-size="25.7" fill="#843c0c" text-anchor="start" font-weight="normal" stroke="#843c0c" stroke-width="1.4">V2I</text>
<circle cx="898.7" cy="488.20000000000005" r="13.1" fill="#70ad47"/>
<text x="926.6" y="497.2" font-size="25.7" fill="#70ad47" text-anchor="start" font-weight="normal" stroke="#70ad47" stroke-width="1.4">V2P</text>
<circle cx="898.7" cy="531.1" r="13.1" fill="#bdd7fb"/>
<text x="926.6" y="539.6" font-size="25.7" fill="#bdd7fb" text-anchor="start" font-weight="normal" stroke="#bdd7fb" stroke-width="1.4">V2C</text>
<circle cx="1432.8" cy="341.8" r="13.1" fill="#3b5ba1"/>
<text x="1458.6" y="352" font-size="25.7" fill="#3b5ba1" text-anchor="start" font-weight="normal" stroke="#3b5ba1" stroke-width="1.3">Ethernet</text>
<circle cx="1432.8" cy="384.7" r="13.1" fill="#267a8a"/>
<text x="1461.6" y="395" font-size="25.7" fill="#267a8a" text-anchor="start" font-weight="normal" stroke="#267a8a" stroke-width="1.3">MOST</text>
<circle cx="1432.8" cy="427.5" r="13.1" fill="#35aecb"/>
<text x="1461.6" y="438" font-size="25.7" fill="#35aecb" text-anchor="start" font-weight="normal" stroke="#35aecb" stroke-width="1.3">CAN-FD</text>
<circle cx="1432.8" cy="469.9" r="13.1" fill="#00aeef"/>
<text x="1461.6" y="479.6" font-size="25.7" fill="#00aeef" text-anchor="start" font-weight="normal" stroke="#00aeef" stroke-width="1.3">CAN</text>
<circle cx="1432.8" cy="512.7" r="13.1" fill="#2e9fb9"/>
<text x="1461.6" y="523" font-size="25.7" fill="#2e9fb9" text-anchor="start" font-weight="normal" stroke="#2e9fb9" stroke-width="1.3">LIN</text>
<circle cx="1432.8" cy="555" r="13.1" fill="#1f6270"/>
<text x="1461.6" y="565.5" font-size="25.7" fill="#1f6270" text-anchor="start" font-weight="normal" stroke="#1f6270" stroke-width="1.3">FlexRay</text>
</svg></body></html>
